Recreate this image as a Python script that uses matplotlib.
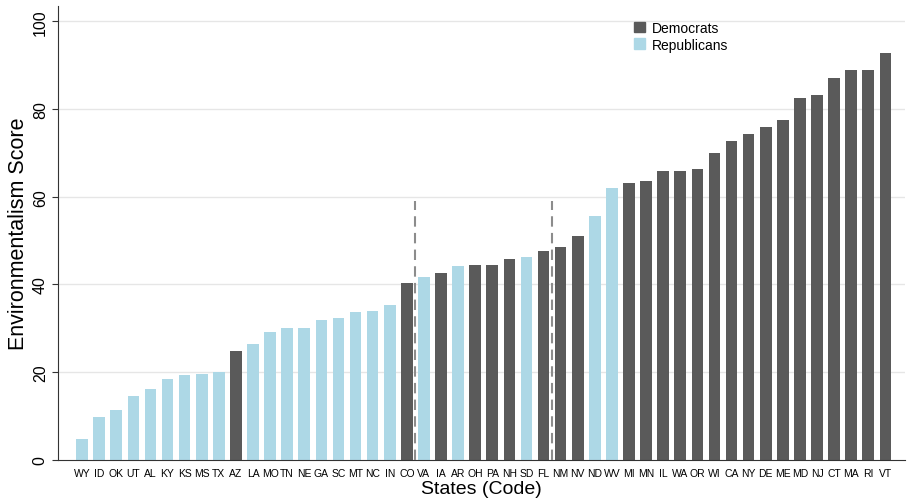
import numpy as np
import matplotlib
matplotlib.use("Agg")
from matplotlib import pyplot as plt
from matplotlib.patches import Patch

plt.rcParams['font.family'] = ['Liberation Sans', 'DejaVu Sans']

states = ['WY', 'ID', 'OK', 'UT', 'AL', 'KY', 'KS', 'MS', 'TX', 'AZ', 'LA', 'MO',
          'TN', 'NE', 'GA', 'SC', 'MT', 'NC', 'IN', 'CO', 'VA', 'IA', 'AR', 'OH',
          'PA', 'NH', 'SD', 'FL', 'NM', 'NV', 'ND', 'WV', 'MI', 'MN', 'IL', 'WA',
          'OR', 'WI', 'CA', 'NY', 'DE', 'ME', 'MD', 'NJ', 'CT', 'MA', 'RI', 'VT']
scores = [4.8, 9.8, 11.4, 14.6, 16.2, 18.5, 19.4, 19.6, 20.1, 24.9, 26.5, 29.2,
          30.1, 30.1, 32.0, 32.4, 33.8, 34.0, 35.2, 40.4, 41.8, 42.5, 44.1, 44.5,
          44.5, 45.9, 46.3, 47.7, 48.6, 51.1, 55.7, 61.9, 63.2, 63.7, 65.8, 65.8,
          66.4, 69.9, 72.8, 74.2, 76.0, 77.4, 82.6, 83.3, 87.0, 89.0, 89.0, 92.9]
party = ['R', 'R', 'R', 'R', 'R', 'R', 'R', 'R', 'R', 'D', 'R', 'R',
         'R', 'R', 'R', 'R', 'R', 'R', 'R', 'D', 'R', 'D', 'R', 'D',
         'D', 'D', 'R', 'D', 'D', 'D', 'R', 'R', 'D', 'D', 'D', 'D',
         'D', 'D', 'D', 'D', 'D', 'D', 'D', 'D', 'D', 'D', 'D', 'D']
# dashed cut lines sit between CO|VA and FL|NM
cut_after = ['CO', 'FL']
cut_height = 59

dem_color = '#5a5a5a'
rep_color = '#add8e6'

fig = plt.figure(figsize=(9.09, 5.02), dpi=100)
ax = fig.add_axes([0.064, 0.082, 0.932, 0.904])

x = np.arange(len(states))
colors = [dem_color if p == 'D' else rep_color for p in party]

for y in [20, 40, 60, 80, 100]:
    ax.axhline(y, color='#e6e6e6', lw=1, zorder=0)

ax.bar(x, scores, width=0.68, color=colors, zorder=2)

for s in cut_after:
    i = states.index(s)
    ax.plot([i + 0.5, i + 0.5], [0, cut_height], color='#8c8c8c', lw=1.5,
            ls=(0, (5, 3)), zorder=3)

ax.set_xlim(-1.4, len(states) + 0.17)
ax.set_ylim(0, 103.5)
ax.set_xticks(x)
ax.set_xticklabels(states, fontsize=7.5)
ax.tick_params(axis='x', length=0, pad=6)
ax.set_yticks([0, 20, 40, 60, 80, 100])
ax.set_yticklabels(['0', '20', '40', '60', '80', '100'], rotation=90,
                   va='center', fontsize=11.5)
ax.tick_params(axis='y', length=4, color='#333333')

for side in ['top', 'right']:
    ax.spines[side].set_visible(False)
ax.spines['left'].set_color('#333333')
ax.spines['bottom'].set_color('#333333')

ax.set_ylabel('Environmentalism Score', fontsize=15.5, labelpad=3)
ax.set_xlabel('States (Code)', fontsize=14, labelpad=1)

handles = [Patch(color=dem_color, label='Democrats'),
           Patch(color=rep_color, label='Republicans')]
ax.legend(handles=handles, loc='upper left', bbox_to_anchor=(0.665, 0.995),
          frameon=False, fontsize=10, handlelength=0.8, handleheight=0.8,
          handletextpad=0.5, labelspacing=0.2)

fig.savefig('out.png', dpi=100)
